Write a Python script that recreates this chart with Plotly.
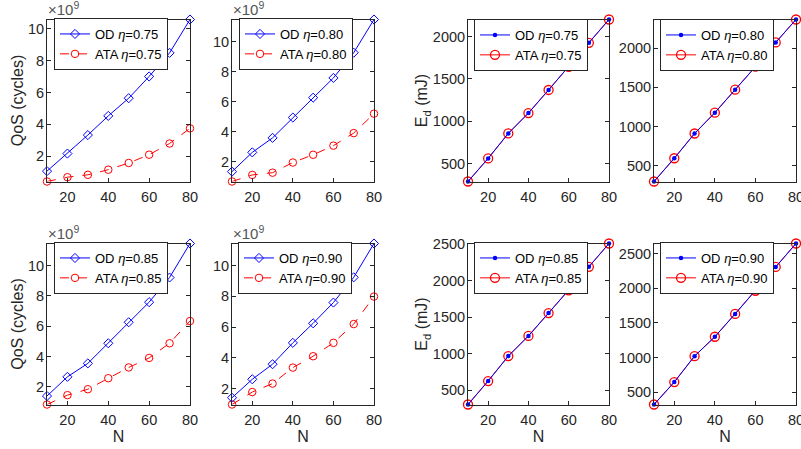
import plotly.graph_objects as go

# ---------------- data ----------------
N = [10, 20, 30, 40, 50, 60, 70, 80]
eta_labels = ["0.75", "0.80", "0.85", "0.90"]

# QoS in units of 1e9 cycles
qos_od_075 = [1.07, 2.17, 3.33, 4.53, 5.64, 7.00, 8.48, 10.57]
qos_ata_075 = [0.42, 0.69, 0.84, 1.16, 1.58, 2.10, 2.80, 3.75]
qos_od_080 = [1.32, 2.61, 3.58, 4.94, 6.27, 7.59, 9.28, 11.50]
qos_ata_080 = [0.66, 1.10, 1.25, 1.93, 2.45, 3.06, 3.90, 5.20]
qos_od_085 = [1.38, 2.65, 3.54, 4.87, 6.26, 7.59, 9.22, 11.47]
qos_ata_085 = [0.82, 1.44, 1.83, 2.56, 3.27, 3.90, 4.87, 6.34]
qos_od_090 = [1.41, 2.61, 3.59, 4.98, 6.25, 7.60, 9.24, 11.44]
qos_ata_090 = [0.97, 1.78, 2.33, 3.37, 4.11, 4.98, 6.20, 7.99]

# Energy E_d in mJ
ed_od_075 = [287, 560, 856, 1097, 1370, 1643, 1928, 2204]
ed_ata_075 = [287, 560, 856, 1097, 1370, 1643, 1928, 2204]
ed_od_080 = [297, 594, 910, 1176, 1470, 1763, 2073, 2366]
ed_ata_080 = [297, 594, 910, 1176, 1470, 1763, 2073, 2366]
ed_od_085 = [307, 628, 969, 1245, 1558, 1869, 2191, 2510]
ed_ata_085 = [307, 628, 969, 1245, 1558, 1869, 2191, 2510]
ed_od_090 = [321, 645, 1019, 1299, 1629, 1963, 2307, 2645]
ed_ata_090 = [321, 645, 1019, 1299, 1629, 1963, 2307, 2645]

qos_ticks = [2, 4, 6, 8, 10]
ed_ticks_top = [500, 1000, 1500, 2000]
ed_ticks_bottom = [500, 1000, 1500, 2000, 2500]
x_ticks = [20, 40, 60, 80]

# ---------------- layout helpers ----------------
W, H = 801, 449
col_px = [(47, 190), (232, 374), (468, 609), (654, 796)]
row_px = [(19.5, 181.5), (243.5, 404.5)]
legend_px = [(54, 18), (239, 18), (474, 19), (660, 19),
             (54, 242), (238, 242), (474, 242), (660, 242)]

AX = "#262626"
BLUE = "#0000FF"
RED = "#FF0000"
FONT = "Liberation Sans, Arial, Helvetica, sans-serif"

panels = [
    # (kind, od, ata, eta, row, col, yticks)
    ("qos", qos_od_075, qos_ata_075, eta_labels[0], 0, 0, qos_ticks),
    ("qos", qos_od_080, qos_ata_080, eta_labels[1], 0, 1, qos_ticks),
    ("ed", ed_od_075, ed_ata_075, eta_labels[0], 0, 2, ed_ticks_top),
    ("ed", ed_od_080, ed_ata_080, eta_labels[1], 0, 3, ed_ticks_top),
    ("qos", qos_od_085, qos_ata_085, eta_labels[2], 1, 0, qos_ticks),
    ("qos", qos_od_090, qos_ata_090, eta_labels[3], 1, 1, qos_ticks),
    ("ed", ed_od_085, ed_ata_085, eta_labels[2], 1, 2, ed_ticks_bottom),
    ("ed", ed_od_090, ed_ata_090, eta_labels[3], 1, 3, ed_ticks_bottom),
]

fig = go.Figure()
layout = {}
annotations = []

for i, (kind, od, ata, eta, r, c, yt) in enumerate(panels):
    k = i + 1
    xa = "x" if k == 1 else f"x{k}"
    ya = "y" if k == 1 else f"y{k}"
    leg = "legend" if k == 1 else f"legend{k}"

    if kind == "qos":
        od_marker = dict(symbol="diamond-open", size=7, color=BLUE,
                         line=dict(width=1, color=BLUE))
        ata_marker = dict(symbol="circle-open", size=7.5, color=RED,
                          line=dict(width=1, color=RED))
        ata_dash = "dash"
    else:
        od_marker = dict(symbol="circle", size=4.5, color=BLUE)
        ata_marker = dict(symbol="circle-open", size=9, color=RED,
                          line=dict(width=1.3, color=RED))
        ata_dash = "solid"

    # ATA drawn first (below), OD on top; legend order kept via legendrank
    fig.add_trace(go.Scatter(
        x=N, y=ata, mode="lines+markers", xaxis=xa, yaxis=ya, legend=leg,
        legendrank=2,
        name=f"ATA <i>η</i>={eta}", line=dict(color=RED, width=1, dash=ata_dash),
        marker=ata_marker, cliponaxis=False))
    fig.add_trace(go.Scatter(
        x=N, y=od, mode="lines+markers", xaxis=xa, yaxis=ya, legend=leg,
        legendrank=1,
        name=f"OD <i>η</i>={eta}", line=dict(color=BLUE, width=1),
        marker=od_marker, cliponaxis=False))

    x0, x1 = col_px[c]
    y0, y1 = row_px[r]
    xdom = [x0 / W, x1 / W]
    ydom = [1 - y1 / H, 1 - y0 / H]

    ymin = min(min(od), min(ata))
    ymax = max(max(od), max(ata))

    axis_common = dict(
        showline=True, linecolor=AX, linewidth=1, mirror="ticks",
        ticks="inside", ticklen=4, tickcolor=AX, tickwidth=1,
        showgrid=False, zeroline=False, automargin=False,
        ticklabeloverflow="allow",
        tickfont=dict(family=FONT, size=14.5, color=AX),
    )
    xkey = "xaxis" if k == 1 else f"xaxis{k}"
    ykey = "yaxis" if k == 1 else f"yaxis{k}"
    xdict = dict(axis_common, domain=xdom, anchor=ya, range=[N[0], N[-1]],
                 tickvals=x_ticks, ticklabelstandoff=2)
    if r == 1:
        xdict["title"] = dict(text="N", font=dict(family=FONT, size=16, color=AX),
                              standoff=0)
    ydict = dict(axis_common, domain=ydom, anchor=xa, range=[ymin, ymax],
                 tickvals=yt, ticklabelstandoff=-1)
    if c == 0:
        ydict["title"] = dict(text="QoS (cycles)",
                              font=dict(family=FONT, size=16, color=AX), standoff=0)
    elif c == 2:
        ydict["title"] = dict(text="E<sub>d</sub> (mJ)",
                              font=dict(family=FONT, size=16, color=AX), standoff=0)
    layout[xkey] = xdict
    layout[ykey] = ydict

    lx, ly = legend_px[i]
    layout[leg] = dict(
        x=lx / W, y=1 - ly / H, xanchor="left", yanchor="top",
        bgcolor="white", bordercolor=AX, borderwidth=1,
        font=dict(family=FONT, size=13, color="#000000"),
        itemwidth=30, tracegroupgap=0,
    )

    if kind == "qos":
        annotations.append(dict(
            text="×10<sup>9</sup>", xref=f"{xa} domain", yref=f"{ya} domain",
            x=0, y=1, xanchor="left", yanchor="bottom", align="left",
            showarrow=False, font=dict(family=FONT, size=15, color="#555555"),
            xshift=-1, yshift=0))

fig.update_layout(
    width=W, height=H,
    margin=dict(l=0, r=0, t=0, b=0),
    paper_bgcolor="white", plot_bgcolor="white",
    showlegend=True, hovermode=False,
    annotations=annotations,
    **layout,
)

fig.write_html(
    "out.html",
    config={"displayModeBar": False, "staticPlot": True},
    post_script="document.body.style.margin='0';document.body.style.overflow='hidden';",
)
